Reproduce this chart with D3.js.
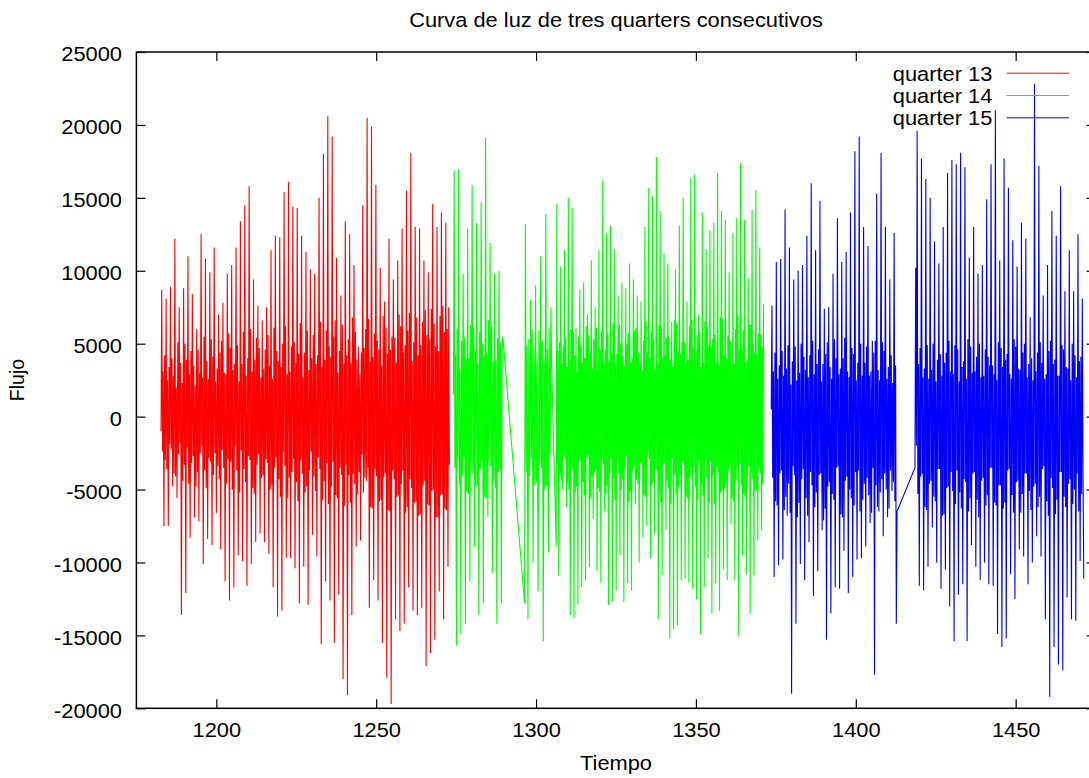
<!DOCTYPE html>
<html><head><meta charset="utf-8">
<script src="https://cdn.jsdelivr.net/npm/d3@7"></script>
<style>
body{margin:0;background:#fff}
svg{display:block}
text{font-family:"Liberation Sans",Arial,sans-serif;fill:#000}
</style>
</head><body>
<svg id="c" width="1089" height="778"></svg>
<script>
// ---- data ----
const titleText = "Curva de luz de tres quarters consecutivos";
const xLabel = "Tiempo";
const yLabel = "Flujo";
const xTicks = [1200, 1250, 1300, 1350, 1400, 1450];
const yTicks = [-20000, -15000, -10000, -5000, 0, 5000, 10000, 15000, 20000, 25000];
const seriesNames = ["quarter 13", "quarter 14", "quarter 15"];
const seriesColors = ["#ff0000", "#00ff00", "#0000ff"];

// flux values (thousands); each block is one continuous stretch of observation
const q13Spans = [[1182.7, 1272.9]];
const q13a = [-1.0,
8.7,-2.4,3.1,-7.5,4.2,-3.0, 8.1,-3.6,2.5,-7.5,3.4,-1.9, 8.9,-2.2,4.0,-4.8,2.8,-3.9,
12.2,-4.1,2.0,-5.6,5.1,-2.6, 7.5,-1.8,3.7,-13.6,2.3,-4.4, 8.8,-3.3,5.0,-12.1,3.9,-2.1,
11.0,-4.6,2.9,-8.3,4.5,-3.2, 8.4,-2.7,3.5,-6.9,2.1,-4.8, 6.0,-3.8,4.6,-7.2,3.0,-2.5,
12.5,-2.0,2.7,-10.1,5.5,-3.7, 10.8,-4.9,3.8,-8.4,2.6,-2.8, 9.9,-3.1,5.3,-8.8,4.1,-4.0,
11.6,-2.5,2.4,-6.6,3.3,-3.4, 7.0,-4.3,4.4,-9.1,5.2,-2.3, 7.8,-3.5,3.0,-11.3,2.9,-4.6,
9.8,-2.9,5.7,-12.6,4.7,-3.1, 10.4,-5.0,3.2,-11.7,3.6,-2.0, 11.6,-3.7,4.9,-9.5,2.4,-5.2,
13.4,-2.3,3.6,-9.9,5.8,-3.6, 14.5,-4.5,2.8,-11.6,4.0,-2.7, 15.8,-3.0,6.0,-10.1,3.1,-4.9,
9.4,-5.3,3.9,-8.6,5.4,-3.3, 7.6,-2.6,4.7,-8.0,2.7,-4.2, 6.6,-4.0,3.3,-8.6,4.6,-2.9,
7.5,-3.2,5.6,-9.4,3.5,-5.0, 11.4,-4.7,2.6,-11.7,6.1,-3.5, 12.4,-2.8,4.5,-13.7,3.8,-4.3,
12.3,-5.5,3.4,-13.3,5.0,-2.4, 15.4,-3.4,6.2,-9.7,2.9,-5.6, 16.1,-4.2,3.1,-9.7,4.8,-3.8,
14.4,-2.9,5.1,-10.4,3.7,-4.5, 14.3,-5.8,4.3,-12.8,6.4,-3.0, 12.4,-3.9,2.7,-10.3,4.4,-5.2,
11.3,-4.8,5.9,-12.9,3.2,-3.7, 10.1,-2.4,4.0,-8.1,5.6,-4.1, 9.8,-5.1,3.6,-9.6,4.2,-2.8,
15.0,-3.6,6.5,-15.6,3.4,-5.7, 18.0,-4.4,3.9,-11.3,5.9,-3.2, 20.6,-6.0,4.8,-12.6,4.1,-4.8,
19.2,-3.1,5.5,-15.5,6.6,-5.4, 10.9,-5.6,3.0,-12.2,4.5,-3.5, 8.3,-4.0,6.3,-18.0,3.6,-6.1,
13.4,-3.3,4.2,-19.1,5.3,-4.0, 12.5,-5.9,3.7,-13.6,6.8,-3.9, 10.4,-4.6,5.8,-8.9,3.9,-5.3,
4.8,-3.8,2.9,-8.5,4.4,-2.6, 14.5,-5.2,4.7,-4.2,6.0,-4.4, 20.5,-3.5,6.7,-13.1,3.8,-6.2,
19.9,-6.3,4.1,-11.2,5.7,-3.6, 15.9,-4.1,5.2,-12.6,4.6,-5.8, 10.2,-5.7,3.5,-15.5,6.9,-4.2,
7.9,-3.9,6.1,-17.9,4.3,-6.4, 12.2,-6.5,4.6,-19.7,5.5,-3.7, 9.4,-4.3,5.4,-13.9,3.7,-5.5,
10.7,-5.4,7.0,-14.7,6.2,-4.6, 12.9,-3.7,4.4,-14.2,4.9,-6.6, 15.5,-6.2,5.9,-11.7,7.1,-4.3,
18.1,-4.9,3.8,-13.3,5.1,-5.9, 13.0,-5.8,6.8,-13.6,4.2,-6.8, 12.9,-6.7,4.9,-13.1,6.5,-4.7,
10.7,-4.4,7.3,-17.1,5.6,-6.0, 9.9,-6.1,5.3,-16.2,7.4,-5.1, 14.6,-5.0,6.4,-15.3,4.8,-6.9,
13.0,-6.9,4.5,-12.0,6.9,-5.4, 14.0,-5.3,7.6,-13.9,5.8,-6.3, 13.3,-6.4,6.0,-10.3,7.5,-3.3];

const q14Spans = [[1274.15, 1289.6], [1296.4, 1304.9], [1306.3, 1371.15]];
const q14a = [1.5,
16.9,-3.5,4.2,-15.7,6.0,-2.8, 17.0,-4.6,3.3,-14.9,5.2,-4.0, 9.8,-2.7,5.5,-14.2,3.9,-5.1,
12.9,-5.3,4.0,-11.3,6.3,-3.2, 15.9,-3.9,6.1,-8.9,4.6,-4.8, 13.3,-4.7,3.6,-13.6,5.8,-3.6,
14.7,-3.1,5.0,-12.8,4.1,-5.5, 19.1,-5.6,4.4,-6.9,6.6,-3.0, 11.9,-3.4,6.2,-10.7,3.8,-4.4,
9.8,-4.9,3.9,-14.2,5.4,-3.8, 10.0,-3.6,5.1,-12.8,4.7,5.5];
const q14b = [-12.8,
13.2,-3.8,4.9,-13.9,5.3,-4.1, 8.0,-2.9,6.0,-10.0,4.4,-4.7, 9.0,-4.5,3.7,-12.0,5.9,-3.3,
11.0,-3.5,5.2,-15.4,3.9,-5.0, 13.9,-4.8,4.6,-9.3,6.1,-2.6, 7.5,3.2];
const q14c = [-8.9,
14.6,-3.2,4.5,-10.9,5.1,-4.0, 10.3,-4.4,3.6,-5.0,4.8,-2.7, 11.4,-2.9,5.4,-6.2,3.4,-4.6,
15.0,-5.0,3.9,-13.6,6.0,-3.5, 14.3,-3.7,5.8,-13.8,4.2,-5.2, 6.1,-4.8,3.1,-12.9,5.5,-3.1,
8.7,-3.0,4.9,-11.7,3.7,-4.5, 9.2,-5.4,4.0,-11.2,6.2,-2.8, 7.0,-2.6,5.6,-10.3,4.5,-5.6,
10.7,-4.1,3.3,-7.0,5.3,-3.8, 7.5,-3.6,6.1,-10.6,3.2,-4.9, 11.4,-5.2,4.6,-11.4,5.9,-3.0,
16.2,-3.3,3.8,-6.5,4.6,-5.3, 12.6,-4.7,5.7,-12.9,3.8,-3.9, 13.1,-2.8,4.3,-12.7,6.4,-4.2,
11.5,-5.7,3.5,-11.9,4.3,-2.9, 8.3,-3.9,6.3,-9.5,5.0,-5.0, 9.2,-4.3,4.1,-12.7,3.5,-3.4,
8.8,-2.7,5.0,-11.4,5.7,-5.8, 10.5,-5.1,3.7,-11.9,4.0,-3.7, 9.4,-3.4,5.9,-6.0,6.1,-4.3,
8.3,-4.6,4.4,-10.0,3.6,-3.2, 7.9,-3.1,3.2,-8.3,5.2,-5.4, 13.0,-5.5,6.5,-7.5,4.4,-2.6,
15.7,-2.9,4.0,-9.7,5.8,-4.7, 15.1,-4.5,5.3,-8.0,3.3,-3.6, 17.8,-3.7,3.6,-13.9,6.3,-5.1,
14.1,-5.9,6.0,-10.9,4.1,-3.3, 11.2,-3.2,4.2,-7.8,5.4,-4.4, 10.5,-4.9,5.5,-15.2,3.9,-6.0,
6.5,-2.8,3.4,-14.6,6.6,-3.9, 10.1,-5.3,6.4,-14.3,4.5,-4.8, 13.1,-4.0,4.3,-11.2,5.1,-3.1,
15.0,-3.3,5.1,-11.1,3.7,-5.5, 7.9,-5.6,3.9,-11.4,6.2,-4.1, 16.4,-3.5,6.6,-11.8,4.7,-3.5,
16.6,-4.8,4.5,-12.5,5.6,-5.7, 7.0,-3.0,5.8,-14.9,3.4,-4.6, 14.0,-5.4,3.7,-11.7,6.5,-3.0,
11.5,-4.2,6.2,-9.7,4.9,-5.9, 12.8,-3.1,4.8,-13.5,5.3,-4.0, 13.3,-6.0,5.6,-11.4,3.8,-3.4,
16.7,-3.8,3.5,-13.3,6.8,-5.2, 14.1,-5.0,6.7,-10.5,4.2,-4.9, 13.5,-4.4,4.0,-11.2,5.5,-3.7,
9.9,-3.2,5.2,-7.4,3.6,-5.6, 12.6,-5.8,3.6,-11.2,6.0,-4.4, 13.6,-3.6,6.9,-15.0,4.6,-3.2,
17.4,-4.7,4.7,-9.5,5.9,-5.3, 13.5,-5.5,3.8,-10.8,3.9,-4.1, 9.5,-3.4,6.3,-13.5,6.3,-3.8,
14.2,-4.3,5.0,-10.9,4.4,-5.0, 15.5,-5.1,4.2,-8.5,5.7,-3.5, 11.6,-3.9,5.6,-7.8,4.8,-4.6,
7.7];

const q15Spans = [[1373.55, 1412.9], [1418.5, 1471.3]];
const q15a = [0.5,
7.6,-4.2,3.1,-11.0,4.4,-5.8, 10.6,-6.1,2.6,-10.2,3.5,-3.9, 10.8,-3.7,4.5,-9.8,2.8,-6.4,
14.2,-5.5,3.3,-6.8,4.9,-4.6, 11.6,-6.6,2.2,-19.0,3.8,-3.4, 9.4,-4.0,4.8,-14.2,2.5,-6.9,
10.0,-5.9,3.0,-10.1,5.0,-4.3, 10.4,-3.6,4.1,-11.2,3.2,-5.6, 12.4,-6.8,2.7,-8.6,4.2,-3.8,
16.0,-4.7,5.2,-12.3,2.9,-6.2, 11.4,-5.2,3.6,-10.6,4.6,-4.0, 14.8,-3.9,2.4,-7.8,3.6,-7.1,
7.4,-6.3,4.3,-15.3,5.1,-4.8, 7.5,-4.5,3.4,-13.5,2.6,-5.3, 9.8,-5.7,5.3,-11.7,4.0,-3.5,
13.6,-3.4,2.9,-11.8,3.3,-6.7, 10.6,-6.9,4.0,-9.2,5.4,-4.4, 11.3,-4.1,3.1,-12.1,2.7,-5.0,
14.0,-5.6,4.7,-11.0,4.3,-6.1, 18.2,-3.8,2.5,-9.8,3.7,-3.7, 19.2,-6.5,5.0,-9.7,2.8,-5.7,
13.0,-4.6,3.7,-8.9,4.8,-4.2, 11.7,-5.4,2.8,-7.3,3.1,-6.6, 5.2,-3.5,4.4,-17.7,5.2,-4.7,
15.3,-6.2,3.2,-6.5,2.5,-5.2, 18.1,-4.3,5.1,-8.2,4.5,-3.9, 13.0,-5.0,2.6,-6.9,3.4,-6.3,
9.4,-3.7,4.2,-5.1,2.3,-4.5, 12.6,-5.8,3.5,-14.2,-6.5];
const q15b = [-3.5,10.2,-2.0,
19.6,-5.3,3.6,-11.6,4.7,-4.1, 17.7,-3.9,2.7,-11.9,3.3,-6.2, 16.3,-6.4,4.9,-10.3,2.6,-4.6,
15.0,-4.4,3.2,-7.6,5.0,-5.5, 12.0,-5.8,2.4,-10.0,3.9,-3.6, 10.5,-3.6,4.3,-11.8,2.8,-6.8,
13.0,-6.7,3.7,-10.5,4.4,-4.9, 16.7,-4.8,5.2,-13.0,3.1,-3.8, 17.6,-5.1,2.9,-15.4,4.9,-6.0,
17.3,-3.7,4.6,-12.2,2.4,-5.2, 18.1,-6.3,3.4,-11.5,3.8,-4.3, 17.1,-4.5,2.6,-15.4,5.3,-6.5,
10.9,-5.6,4.8,-8.8,3.0,-3.9, 13.0,-3.8,3.1,-10.3,4.1,-5.7, 9.8,-6.9,5.0,-11.2,2.7,-4.4,
10.4,-4.2,2.8,-10.0,4.6,-6.1, 14.9,-5.4,4.1,-11.5,3.5,-3.5, 17.3,-3.5,3.5,-11.6,2.9,-5.9,
21.0,-6.1,2.5,-14.9,5.1,-4.7, 10.7,-4.7,4.7,-15.8,3.4,-6.3, 17.7,-5.9,3.9,-15.2,4.3,-3.7,
15.7,-3.6,2.9,-10.8,2.6,-5.4, 12.1,-6.6,5.3,-12.5,4.8,-4.5, 10.3,-4.4,3.3,-9.1,3.2,-6.6,
13.3,-5.3,4.4,-9.6,5.0,-3.9, 12.2,-3.9,2.7,-11.5,3.6,-5.1, 6.8,-6.4,4.0,-10.0,2.5,-4.8,
22.8,-4.6,3.1,-8.2,4.4,-6.2, 17.2,-5.5,5.1,-9.6,3.7,-3.6, 8.3,-3.4,2.6,-13.9,2.9,-5.8,
10.4,-6.8,4.5,-19.2,5.2,-4.2, 14.1,-4.9,3.6,-15.8,3.9,-6.7, 12.4,-5.7,2.8,-17.0,2.8,-3.8,
15.8,-3.8,4.9,-17.4,4.6,-5.5, 8.6,-6.2,3.4,-12.4,3.3,-4.6, 11.4,-4.3,2.5,-13.9,5.0,-6.0,
8.6,-5.0,4.2,-14.0,2.7,-3.9, 12.5,-6.5,3.8,-9.9,4.1,-5.3, 8.1,-4.1,-11.1];

// ---- build ----
function buildSeries(spans, blocks) {
  const pts = [];
  blocks.forEach((vals, b) => {
    const [t0, t1] = spans[b];
    const n = vals.length;
    vals.forEach((v, i) => pts.push({t: t0 + (t1 - t0) * i / (n - 1), f: v * 1000}));
  });
  return pts;
}
const series = [
  buildSeries(q13Spans, [q13a]),
  buildSeries(q14Spans, [q14a, q14b, q14c]),
  buildSeries(q15Spans, [q15a, q15b])
];

const L = 136.4, R = 1095.6, T = 52, B = 708.3;
const FS = 19.5, SX = 1.12;
const x = d3.scaleLinear().domain([1175, 1475]).range([L, R]);
const y = d3.scaleLinear().domain([-20000, 25000]).range([B, T]);
const svg = d3.select("#c");

svg.append("defs").append("clipPath").attr("id", "clip")
  .append("rect").attr("x", L).attr("y", T).attr("width", R - L).attr("height", B - T);

function styleAxis(g) {
  g.select(".domain").remove();
  g.selectAll(".tick line").attr("stroke", "#000").attr("stroke-width", 1.2);
  g.attr("font-family", null).attr("font-size", null);
  g.selectAll("text").style("font-size", FS + "px");
}
const gx = svg.append("g").attr("transform", `translate(0,${B})`)
  .call(d3.axisBottom(x).tickValues(xTicks).tickSizeInner(-9).tickSizeOuter(0).tickPadding(15).tickFormat(d => String(d)));
styleAxis(gx);
gx.selectAll("text").attr("transform", `scale(${SX},1)`);
const gxt = svg.append("g").attr("transform", `translate(0,${T})`)
  .call(d3.axisTop(x).tickValues(xTicks).tickSizeInner(-9).tickSizeOuter(0).tickFormat(""));
styleAxis(gxt);
const gy = svg.append("g").attr("transform", `translate(${L},0)`)
  .call(d3.axisLeft(y).tickValues(yTicks).tickSizeInner(-9).tickSizeOuter(0).tickPadding(14.4).tickFormat(d => String(d)));
styleAxis(gy);
gy.selectAll("text").attr("dy", "0.45em")
  .attr("transform", `translate(-14.4,0) scale(${SX},1) translate(14.4,0)`);
const gyr = svg.append("g").attr("transform", `translate(${R},0)`)
  .call(d3.axisRight(y).tickValues(yTicks).tickSizeInner(-9).tickSizeOuter(0).tickFormat(""));
styleAxis(gyr);

const line = d3.line().x(d => x(d.t)).y(d => y(d.f));
const gd = svg.append("g").attr("clip-path", "url(#clip)");
series.forEach((s, i) => {
  gd.append("path").datum(s).attr("d", line)
    .attr("fill", "none").attr("stroke", seriesColors[i]).attr("stroke-width", 1.1)
    .attr("stroke-linejoin", "miter").attr("stroke-miterlimit", 2);
});

svg.append("rect").attr("x", L).attr("y", T).attr("width", R - L).attr("height", B - T)
  .attr("fill", "none").attr("stroke", "#000").attr("stroke-width", 1.5);

const legY = [73.2, 95.5, 117.8];
seriesNames.forEach((n, i) => {
  svg.append("line").attr("x1", 1006.7).attr("x2", 1069).attr("y1", legY[i]).attr("y2", legY[i])
    .attr("stroke", seriesColors[i]).attr("stroke-width", 1);
  svg.append("text").attr("transform", `translate(992.3,${legY[i] + 7.3}) scale(${SX},1)`)
    .attr("text-anchor", "end").style("font-size", FS + "px").text(n);
});

svg.append("text").attr("transform", `translate(${(L + R) / 2},27) scale(${SX},1)`)
  .attr("text-anchor", "middle").style("font-size", FS + "px").text(titleText);
svg.append("text").attr("transform", `translate(${(L + R) / 2},770) scale(${SX},1)`)
  .attr("text-anchor", "middle").style("font-size", FS + "px").text(xLabel);
svg.append("text").attr("transform", `translate(24,380) rotate(-90)`)
  .attr("text-anchor", "middle").style("font-size", FS + "px").text(yLabel);
</script>
</body></html>
